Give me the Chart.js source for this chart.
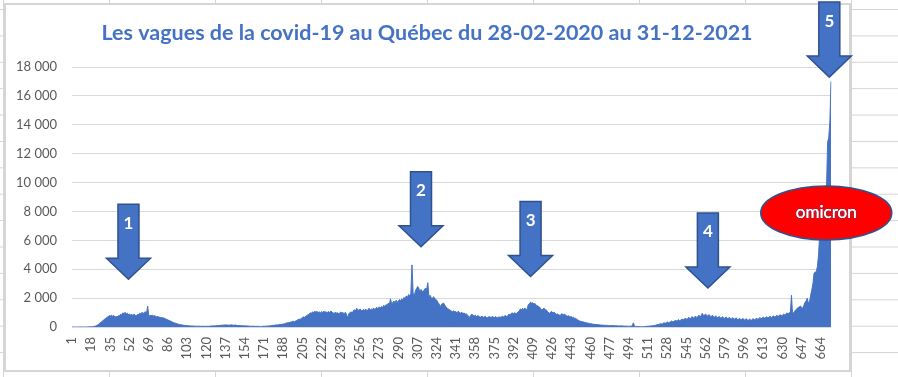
<!DOCTYPE html>
<html lang="fr">
<head>
<meta charset="utf-8">
<title>Les vagues de la covid-19 au Québec</title>
<script src="https://cdn.jsdelivr.net/npm/chart.js@4.4.1/dist/chart.umd.min.js"></script>
<style>
  html, body {
    margin: 0;
    padding: 0;
  }
  body {
    width: 898px;
    height: 377px;
    position: relative;
    overflow: hidden;
    background-color: #fff;
    background-image:
      linear-gradient(to right, #d4d4d4 1px, transparent 1px),
      linear-gradient(to bottom, #d4d4d4 1px, transparent 1px);
    background-size: 106px 26.4px;
    background-position: 3px 9px;
  }
  .chart-box {
    position: absolute;
    left: 4px;
    top: 3px;
    width: 843px;
    height: 365px;
    background: #fff;
    border: 2px solid #d6d6d6;
  }
  #chart {
    position: absolute;
    left: 0;
    top: 0;
  }
</style>
</head>
<body>
<div class="chart-box"></div>
<canvas id="chart" width="898" height="377" style="width:898px;height:377px"></canvas>
<script>
const TITLE = 'Les vagues de la covid-19 au Québec du 28-02-2020 au 31-12-2021';

// nouveaux cas par jour, jour 1 = 28-02-2020 ... jour 673 = 31-12-2021
const cases = [
  0, 0, 0, 0, 0, 0, 0, 0, 1, 1,                               // 1-10
  2, 3, 4, 5, 7, 9, 11, 17, 24, 35,                           // 11-20
  50, 70, 100, 150, 230, 290, 350, 420, 480, 550,             // 21-30
  600, 680, 700, 800, 760, 820, 740, 800, 680, 720,           // 31-40
  700, 780, 760, 880, 850, 980, 920, 1020, 900, 960,          // 41-50
  860, 900, 820, 880, 780, 900, 800, 760, 880, 840,           // 51-60
  960, 900, 1020, 940, 1000, 1060, 960, 1450, 700, 820,       // 61-70
  780, 820, 760, 790, 740, 700, 720, 690, 660, 640,           // 71-80
  650, 620, 600, 560, 520, 480, 450, 420, 380, 340,           // 81-90
  300, 280, 250, 220, 200, 180, 170, 150, 130, 120,           // 91-100
  110, 100, 95, 90, 80, 75, 70, 65, 60, 60,                   // 101-110
  55, 50, 60, 55, 50, 45, 55, 50, 45, 50,                     // 111-120
  55, 50, 60, 70, 65, 80, 75, 90, 100, 95,                    // 121-130
  110, 100, 120, 130, 125, 140, 150, 130, 140, 120,           // 131-140
  130, 150, 140, 120, 135, 130, 110, 100, 110, 95,            // 141-150
  100, 90, 80, 85, 75, 70, 65, 60, 55, 60,                    // 151-160
  50, 55, 45, 40, 50, 45, 40, 35, 40, 50,                     // 161-170
  45, 55, 60, 70, 65, 80, 90, 100, 110, 120,                  // 171-180
  130, 150, 140, 160, 180, 170, 190, 200, 220, 250,           // 181-190
  280, 300, 290, 320, 350, 380, 400, 370, 420, 450,           // 191-200
  500, 550, 520, 600, 650, 700, 680, 750, 800, 850,           // 201-210
  900, 980, 950, 1050, 980, 1100, 1020, 1080, 1000, 1060,     // 211-220
  950, 1080, 1000, 1100, 1020, 1060, 960, 1080, 1000, 1100,   // 221-230
  1060, 980, 940, 1020, 960, 1000, 900, 980, 1040, 960,       // 231-240
  1000, 920, 1020, 880, 620, 900, 980, 1060, 960, 1100,       // 241-250
  1200, 1100, 1300, 1200, 1150, 1250, 1180, 1100, 1220, 1150, // 251-260
  1250, 1120, 1200, 1300, 1150, 1250, 1200, 1320, 1180, 1300, // 261-270
  1350, 1250, 1400, 1300, 1420, 1350, 1500, 1400, 1550, 1480, // 271-280
  1650, 1550, 1950, 1600, 1700, 1800, 1650, 1850, 1700, 1800, // 281-290
  1900, 1800, 1950, 1850, 2050, 1950, 2150, 2050, 2250, 2150, // 291-300
  2300, 4300, 2350, 2100, 2500, 2650, 2800, 2700, 2400, 2600, // 301-310
  2450, 2500, 2560, 2700, 2600, 3070, 2100, 2200, 2050, 1950, // 311-320
  2100, 2000, 1900, 1850, 1700, 1600, 1400, 1550, 1620, 1660, // 321-330
  1520, 1400, 1290, 1250, 1220, 1150, 1100, 1060, 1120, 1050, // 331-340
  1060, 980, 1100, 1000, 950, 1040, 900, 980, 880, 920,       // 341-350
  850, 750, 670, 800, 900, 800, 760, 820, 720, 780,           // 351-360
  760, 700, 680, 760, 660, 700, 740, 660, 640, 720,           // 361-370
  700, 650, 720, 690, 640, 720, 660, 640, 710, 660,           // 371-380
  690, 740, 700, 760, 800, 720, 800, 900, 820, 950,           // 381-390
  980, 900, 1000, 920, 960, 1050, 1100, 1250, 1200, 1300,     // 391-400
  1200, 1320, 1180, 1250, 1550, 1600, 1720, 1650, 1680, 1600, // 401-410
  1620, 1500, 1480, 1400, 1380, 1250, 1180, 1260, 1300, 1200, // 411-420
  1180, 1050, 1000, 940, 1050, 1060, 980, 1020, 940, 880,     // 421-430
  900, 850, 800, 880, 920, 840, 900, 820, 780, 740,           // 431-440
  780, 700, 720, 650, 680, 600, 610, 520, 480, 430,           // 441-450
  400, 380, 370, 340, 320, 300, 280, 260, 250, 240,           // 451-460
  220, 200, 190, 180, 170, 165, 160, 150, 140, 130,           // 461-470
  125, 120, 120, 110, 115, 105, 100, 95, 100, 90,             // 471-480
  90, 85, 90, 80, 75, 70, 80, 70, 65, 60,                     // 481-490
  65, 60, 55, 50, 60, 55, 80, 290, 60, 40,                    // 491-500
  35, 30, 25, 20, 20, 25, 30, 35, 40, 50,                     // 501-510
  55, 60, 70, 80, 90, 100, 110, 130, 150, 170,                // 511-520
  190, 250, 200, 230, 300, 260, 280, 350, 300, 330,           // 521-530
  360, 420, 350, 380, 470, 420, 450, 520, 440, 470,           // 531-540
  560, 490, 530, 620, 540, 560, 680, 580, 600, 720,           // 541-550
  620, 650, 760, 660, 700, 820, 720, 760, 950, 800,           // 551-560
  830, 900, 780, 760, 860, 740, 720, 820, 700, 680,           // 561-570
  780, 660, 650, 740, 630, 620, 720, 600, 610, 700,           // 571-580
  590, 580, 680, 570, 560, 650, 540, 550, 640, 530,           // 581-590
  520, 610, 500, 520, 600, 490, 480, 580, 470, 490,           // 591-600
  560, 460, 480, 580, 500, 520, 620, 540, 560, 660,           // 601-610
  580, 600, 700, 610, 640, 720, 630, 660, 750, 660,           // 611-620
  690, 780, 700, 720, 820, 740, 760, 860, 780, 800,           // 621-630
  900, 840, 880, 980, 900, 1000, 950, 2200, 830, 1000,        // 631-640
  1100, 1200, 1290, 1350, 1400, 1450, 1350, 1290, 1500, 1700, // 641-650
  1800, 1990, 1640, 1750, 2200, 2560, 3000, 3720, 3800, 3830, // 651-660
  4200, 5000, 6500, 6300, 6900, 9100, 8200, 8900, 9500, 12800, // 661-670
  13100, 14200, 17000                                         // 671-673
];

const days = cases.map((v, i) => i + 1);

const xTickLabels = [1, 18, 35, 52, 69, 86, 103, 120, 137, 154, 171, 188, 205, 222,
  239, 256, 273, 290, 307, 324, 341, 358, 375, 392, 409, 426, 443, 460, 477, 494,
  511, 528, 545, 562, 579, 596, 613, 630, 647, 664];
const yTicks = [0, 2000, 4000, 6000, 8000, 10000, 12000, 14000, 16000, 18000];

// flèches des vagues: numéro, jour visé, valeur de la pointe
const arrowLabels = ['1', '2', '3', '4', '5'];
const arrowDays = [51, 310, 407, 564, 671.5];
const arrowTips = [3300, 5550, 3500, 2700, 17300];

const omicronLabel = 'omicron';
const omicronDay = 668.8;
const omicronValue = 7900;

const BLUE = '#4472C4';
const DARK_BLUE = '#2F528F';
const GREY_TEXT = '#595959';
const FONT = 'Lato, "Open Sans", sans-serif';

function formatThousands(v) {
  return String(v).replace(/\B(?=(\d{3})+(?!\d))/g, ' ');
}

function drawArrow(ctx, tipX, tipY, label) {
  const length = 75, headH = 21, shaftW = 21, headW = 44;
  const topY = tipY - length;
  const neckY = tipY - headH;
  ctx.save();
  ctx.beginPath();
  ctx.moveTo(tipX - shaftW / 2, topY);
  ctx.lineTo(tipX + shaftW / 2, topY);
  ctx.lineTo(tipX + shaftW / 2, neckY);
  ctx.lineTo(tipX + headW / 2, neckY);
  ctx.lineTo(tipX, tipY);
  ctx.lineTo(tipX - headW / 2, neckY);
  ctx.lineTo(tipX - shaftW / 2, neckY);
  ctx.closePath();
  ctx.fillStyle = BLUE;
  ctx.fill();
  ctx.lineWidth = 1.5;
  ctx.strokeStyle = DARK_BLUE;
  ctx.stroke();

  ctx.fillStyle = '#fff';
  ctx.font = 'bold 17px ' + FONT;
  ctx.textAlign = 'center';
  ctx.textBaseline = 'middle';
  ctx.fillText(label, tipX, topY + 19);
  ctx.restore();
}

// Excel placed the title a bit right of the canvas centre, so draw it ourselves
const titlePlugin = {
  id: 'excelTitle',
  afterDraw(chart) {
    const ctx = chart.ctx;
    ctx.save();
    ctx.font = 'bold 21.5px ' + FONT;
    ctx.fillStyle = BLUE;
    ctx.textAlign = 'center';
    ctx.textBaseline = 'middle';
    ctx.fillText(TITLE, 427, 33);
    ctx.restore();
  }
};

const wavesPlugin = {
  id: 'waves',
  afterDatasetsDraw(chart) {
    const ctx = chart.ctx;
    const x = chart.scales.x;
    const y = chart.scales.y;

    arrowLabels.forEach((label, i) => {
      drawArrow(ctx, x.getPixelForValue(arrowDays[i] - 1), y.getPixelForValue(arrowTips[i]), label);
    });

    // ellipse omicron
    const cx = x.getPixelForValue(omicronDay - 1);
    const cy = y.getPixelForValue(omicronValue);
    ctx.save();
    ctx.beginPath();
    ctx.ellipse(cx, cy, 65.5, 27, 0, 0, Math.PI * 2);
    ctx.fillStyle = '#FF0000';
    ctx.fill();
    ctx.lineWidth = 1.5;
    ctx.strokeStyle = DARK_BLUE;
    ctx.stroke();

    ctx.font = '17px ' + FONT;
    ctx.textAlign = 'center';
    ctx.textBaseline = 'middle';
    ctx.shadowColor = DARK_BLUE;
    ctx.shadowBlur = 3;
    ctx.fillStyle = '#fff';
    ctx.fillText(omicronLabel, cx, cy);
    ctx.shadowBlur = 0;
    ctx.fillText(omicronLabel, cx, cy);
    ctx.restore();
  }
};

new Chart(document.getElementById('chart'), {
  type: 'line',
  data: {
    labels: days,
    datasets: [{
      label: 'Cas',
      data: cases,
      fill: 'origin',
      backgroundColor: BLUE,
      borderColor: BLUE,
      borderWidth: 1,
      pointRadius: 0,
      tension: 0
    }]
  },
  options: {
    responsive: false,
    animation: false,
    devicePixelRatio: 1,
    layout: {
      padding: { left: 0, top: 67, right: 67, bottom: 0 }
    },
    plugins: {
      legend: { display: false },
      tooltip: { enabled: false },
      title: { display: false }
    },
    scales: {
      x: {
        type: 'category',
        offset: false,
        grid: { display: false, drawTicks: false },
        border: { display: false },
        afterFit(scale) { scale.height = 50; },
        ticks: {
          autoSkip: false,
          minRotation: 90,
          maxRotation: 90,
          padding: 10,
          color: GREY_TEXT,
          font: { family: FONT, size: 13 },
          callback(value) {
            const day = days[value];
            return xTickLabels.includes(day) ? String(day) : '';
          }
        }
      },
      y: {
        min: 0,
        max: 18000,
        grid: { color: '#d9d9d9', lineWidth: 1, drawTicks: false },
        border: { display: false },
        afterFit(scale) { scale.width = 72; },
        afterBuildTicks(scale) {
          scale.ticks = yTicks.map(v => ({ value: v }));
        },
        ticks: {
          padding: 15,
          color: GREY_TEXT,
          font: { family: FONT, size: 13 },
          callback(value) { return formatThousands(value); }
        }
      }
    }
  },
  plugins: [wavesPlugin, titlePlugin]
});
</script>
</body>
</html>
